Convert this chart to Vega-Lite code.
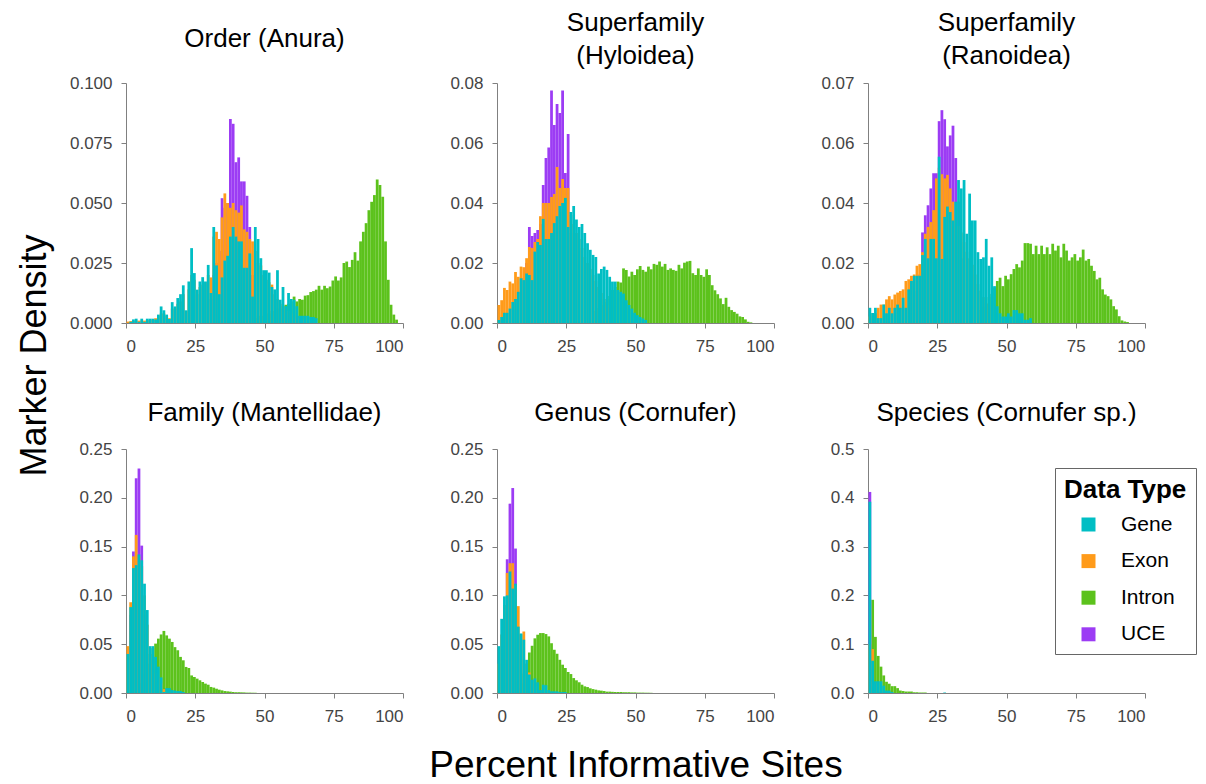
{
  "$schema": "https://vega.github.io/schema/vega-lite/v6.json",
  "background": "white",
  "padding": {"left": 16, "top": 10, "right": 5, "bottom": 5},
  "config": {
    "view": {"stroke": null},
    "font": "Liberation Sans",
    "axis": {"domainColor": "#808080", "tickColor": "#808080", "labelColor": "#444444", "labelFontSize": 17, "labelFont": "Liberation Sans", "grid": false, "tickSize": 5, "titleFont": "Liberation Sans", "titleFontWeight": "normal", "titleColor": "#000000"},
    "title": {"font": "Liberation Sans", "fontSize": 26, "fontWeight": "normal", "color": "#000000"},
    "bar": {"binSpacing": 0, "stroke": null}
  },
  "datasets": {
    "anura": [
      {"type":"Intron","pct":45,"density":0.002},{"type":"Intron","pct":46,"density":0.002},{"type":"Intron","pct":47,"density":0.003},{"type":"Intron","pct":48,"density":0.003},{"type":"Intron","pct":49,"density":0.003},{"type":"Intron","pct":50,"density":0.004},{"type":"Intron","pct":51,"density":0.004},{"type":"Intron","pct":52,"density":0.005},{"type":"Intron","pct":53,"density":0.005},{"type":"Intron","pct":54,"density":0.006},{"type":"Intron","pct":55,"density":0.006},{"type":"Intron","pct":56,"density":0.007},{"type":"Intron","pct":57,"density":0.0076},{"type":"Intron","pct":58,"density":0.008},{"type":"Intron","pct":59,"density":0.009},{"type":"Intron","pct":60,"density":0.011},{"type":"Intron","pct":61,"density":0.009},{"type":"Intron","pct":62,"density":0.010},{"type":"Intron","pct":63,"density":0.0097},{"type":"Intron","pct":64,"density":0.0114},{"type":"Intron","pct":65,"density":0.0116},{"type":"Intron","pct":66,"density":0.0129},{"type":"Intron","pct":67,"density":0.0133},{"type":"Intron","pct":68,"density":0.0139},{"type":"Intron","pct":69,"density":0.0155},{"type":"Intron","pct":70,"density":0.0139},{"type":"Intron","pct":71,"density":0.0155},{"type":"Intron","pct":72,"density":0.0145},{"type":"Intron","pct":73,"density":0.0152},{"type":"Intron","pct":74,"density":0.0177},{"type":"Intron","pct":75,"density":0.0194},{"type":"Intron","pct":76,"density":0.0177},{"type":"Intron","pct":77,"density":0.019},{"type":"Intron","pct":78,"density":0.025},{"type":"Intron","pct":79,"density":0.0256},{"type":"Intron","pct":80,"density":0.0233},{"type":"Intron","pct":81,"density":0.0263},{"type":"Intron","pct":82,"density":0.0295},{"type":"Intron","pct":83,"density":0.026},{"type":"Intron","pct":84,"density":0.034},{"type":"Intron","pct":85,"density":0.038},{"type":"Intron","pct":86,"density":0.0416},{"type":"Intron","pct":87,"density":0.047},{"type":"Intron","pct":88,"density":0.0505},{"type":"Intron","pct":89,"density":0.0533},{"type":"Intron","pct":90,"density":0.0598},{"type":"Intron","pct":91,"density":0.0575},{"type":"Intron","pct":92,"density":0.0526},{"type":"Intron","pct":93,"density":0.034},{"type":"Intron","pct":94,"density":0.018},{"type":"Intron","pct":95,"density":0.0076},{"type":"Intron","pct":96,"density":0.0035},{"type":"Intron","pct":97,"density":0.0014},
      {"type":"UCE","pct":30,"density":0.01},{"type":"UCE","pct":31,"density":0.02},{"type":"UCE","pct":32,"density":0.025},{"type":"UCE","pct":33,"density":0.03},{"type":"UCE","pct":34,"density":0.052},{"type":"UCE","pct":35,"density":0.048},{"type":"UCE","pct":36,"density":0.05},{"type":"UCE","pct":37,"density":0.085},{"type":"UCE","pct":38,"density":0.083},{"type":"UCE","pct":39,"density":0.067},{"type":"UCE","pct":40,"density":0.069},{"type":"UCE","pct":41,"density":0.059},{"type":"UCE","pct":42,"density":0.059},{"type":"UCE","pct":43,"density":0.053},{"type":"UCE","pct":44,"density":0.04},{"type":"UCE","pct":45,"density":0.02},
      {"type":"Exon","pct":0,"density":0.0006},{"type":"Exon","pct":1,"density":0.0008},{"type":"Exon","pct":2,"density":0.0008},{"type":"Exon","pct":3,"density":0.001},{"type":"Exon","pct":4,"density":0.001},{"type":"Exon","pct":5,"density":0.001},{"type":"Exon","pct":6,"density":0.001},{"type":"Exon","pct":7,"density":0.0012},{"type":"Exon","pct":8,"density":0.0012},{"type":"Exon","pct":9,"density":0.0014},{"type":"Exon","pct":10,"density":0.002},{"type":"Exon","pct":11,"density":0.003},{"type":"Exon","pct":12,"density":0.004},{"type":"Exon","pct":13,"density":0.004},{"type":"Exon","pct":14,"density":0.003},{"type":"Exon","pct":15,"density":0.002},{"type":"Exon","pct":16,"density":0.006},{"type":"Exon","pct":17,"density":0.006},{"type":"Exon","pct":18,"density":0.008},{"type":"Exon","pct":19,"density":0.009},{"type":"Exon","pct":20,"density":0.012},{"type":"Exon","pct":21,"density":0.005},{"type":"Exon","pct":22,"density":0.014},{"type":"Exon","pct":23,"density":0.02},{"type":"Exon","pct":24,"density":0.018},{"type":"Exon","pct":25,"density":0.012},{"type":"Exon","pct":26,"density":0.015},{"type":"Exon","pct":27,"density":0.016},{"type":"Exon","pct":28,"density":0.017},{"type":"Exon","pct":29,"density":0.02},{"type":"Exon","pct":30,"density":0.019},{"type":"Exon","pct":31,"density":0.036},{"type":"Exon","pct":32,"density":0.038},{"type":"Exon","pct":33,"density":0.035},{"type":"Exon","pct":34,"density":0.044},{"type":"Exon","pct":35,"density":0.054},{"type":"Exon","pct":36,"density":0.05},{"type":"Exon","pct":37,"density":0.048},{"type":"Exon","pct":38,"density":0.05},{"type":"Exon","pct":39,"density":0.047},{"type":"Exon","pct":40,"density":0.046},{"type":"Exon","pct":41,"density":0.049},{"type":"Exon","pct":42,"density":0.039},{"type":"Exon","pct":43,"density":0.038},{"type":"Exon","pct":44,"density":0.035},{"type":"Exon","pct":45,"density":0.034},{"type":"Exon","pct":46,"density":0.03},{"type":"Exon","pct":47,"density":0.025},{"type":"Exon","pct":48,"density":0.024},{"type":"Exon","pct":49,"density":0.02},{"type":"Exon","pct":50,"density":0.018},{"type":"Exon","pct":51,"density":0.017},{"type":"Exon","pct":52,"density":0.016},{"type":"Exon","pct":53,"density":0.012},{"type":"Exon","pct":54,"density":0.01},{"type":"Exon","pct":55,"density":0.008},{"type":"Exon","pct":56,"density":0.007},{"type":"Exon","pct":57,"density":0.006},{"type":"Exon","pct":58,"density":0.005},{"type":"Exon","pct":59,"density":0.004},{"type":"Exon","pct":60,"density":0.003},{"type":"Exon","pct":61,"density":0.002},{"type":"Exon","pct":62,"density":0.002},{"type":"Exon","pct":63,"density":0.0015},
      {"type":"Gene","pct":1,"density":0.0005},{"type":"Gene","pct":2,"density":0.0015},{"type":"Gene","pct":3,"density":0.0018},{"type":"Gene","pct":4,"density":0.0005},{"type":"Gene","pct":5,"density":0.0018},{"type":"Gene","pct":6,"density":0.0005},{"type":"Gene","pct":7,"density":0.0018},{"type":"Gene","pct":8,"density":0.0018},{"type":"Gene","pct":9,"density":0.0018},{"type":"Gene","pct":10,"density":0.0015},{"type":"Gene","pct":11,"density":0.0035},{"type":"Gene","pct":12,"density":0.0069},{"type":"Gene","pct":13,"density":0.0053},{"type":"Gene","pct":14,"density":0.0035},{"type":"Gene","pct":15,"density":0.0017},{"type":"Gene","pct":16,"density":0.0087},{"type":"Gene","pct":17,"density":0.0069},{"type":"Gene","pct":18,"density":0.0104},{"type":"Gene","pct":19,"density":0.012},{"type":"Gene","pct":20,"density":0.0157},{"type":"Gene","pct":21,"density":0.0053},{"type":"Gene","pct":22,"density":0.0173},{"type":"Gene","pct":23,"density":0.0312},{"type":"Gene","pct":24,"density":0.0208},{"type":"Gene","pct":25,"density":0.0139},{"type":"Gene","pct":26,"density":0.0173},{"type":"Gene","pct":27,"density":0.0191},{"type":"Gene","pct":28,"density":0.0173},{"type":"Gene","pct":29,"density":0.0242},{"type":"Gene","pct":30,"density":0.0125},{"type":"Gene","pct":31,"density":0.04},{"type":"Gene","pct":32,"density":0.024},{"type":"Gene","pct":33,"density":0.012},{"type":"Gene","pct":34,"density":0.019},{"type":"Gene","pct":35,"density":0.026},{"type":"Gene","pct":36,"density":0.028},{"type":"Gene","pct":37,"density":0.036},{"type":"Gene","pct":38,"density":0.04},{"type":"Gene","pct":39,"density":0.036},{"type":"Gene","pct":40,"density":0.034},{"type":"Gene","pct":41,"density":0.034},{"type":"Gene","pct":42,"density":0.023},{"type":"Gene","pct":43,"density":0.023},{"type":"Gene","pct":44,"density":0.029},{"type":"Gene","pct":45,"density":0.011},{"type":"Gene","pct":46,"density":0.04},{"type":"Gene","pct":47,"density":0.035},{"type":"Gene","pct":48,"density":0.027},{"type":"Gene","pct":49,"density":0.022},{"type":"Gene","pct":50,"density":0.022},{"type":"Gene","pct":51,"density":0.021},{"type":"Gene","pct":52,"density":0.015},{"type":"Gene","pct":53,"density":0.014},{"type":"Gene","pct":54,"density":0.022},{"type":"Gene","pct":55,"density":0.0097},{"type":"Gene","pct":56,"density":0.015},{"type":"Gene","pct":57,"density":0.007},{"type":"Gene","pct":58,"density":0.0125},{"type":"Gene","pct":59,"density":0.01},{"type":"Gene","pct":60,"density":0.0097},{"type":"Gene","pct":61,"density":0.007},{"type":"Gene","pct":62,"density":0.003},{"type":"Gene","pct":63,"density":0.003},{"type":"Gene","pct":64,"density":0.003},{"type":"Gene","pct":65,"density":0.003},{"type":"Gene","pct":66,"density":0.0025},{"type":"Gene","pct":67,"density":0.0025},{"type":"Gene","pct":68,"density":0.002}
    ],
    "hyloidea": [
      {"type":"Intron","pct":35,"density":0.004},{"type":"Intron","pct":36,"density":0.005},{"type":"Intron","pct":37,"density":0.006},{"type":"Intron","pct":38,"density":0.007},{"type":"Intron","pct":39,"density":0.008},{"type":"Intron","pct":40,"density":0.009},{"type":"Intron","pct":41,"density":0.011},{"type":"Intron","pct":42,"density":0.012},{"type":"Intron","pct":43,"density":0.0138},{"type":"Intron","pct":44,"density":0.0135},{"type":"Intron","pct":45,"density":0.0182},{"type":"Intron","pct":46,"density":0.0177},{"type":"Intron","pct":47,"density":0.0155},{"type":"Intron","pct":48,"density":0.0171},{"type":"Intron","pct":49,"density":0.016},{"type":"Intron","pct":50,"density":0.0179},{"type":"Intron","pct":51,"density":0.019},{"type":"Intron","pct":52,"density":0.0177},{"type":"Intron","pct":53,"density":0.0171},{"type":"Intron","pct":54,"density":0.0188},{"type":"Intron","pct":55,"density":0.0179},{"type":"Intron","pct":56,"density":0.0197},{"type":"Intron","pct":57,"density":0.0194},{"type":"Intron","pct":58,"density":0.0205},{"type":"Intron","pct":59,"density":0.0188},{"type":"Intron","pct":60,"density":0.0197},{"type":"Intron","pct":61,"density":0.0177},{"type":"Intron","pct":62,"density":0.0182},{"type":"Intron","pct":63,"density":0.0177},{"type":"Intron","pct":64,"density":0.0174},{"type":"Intron","pct":65,"density":0.0194},{"type":"Intron","pct":66,"density":0.0182},{"type":"Intron","pct":67,"density":0.0201},{"type":"Intron","pct":68,"density":0.0205},{"type":"Intron","pct":69,"density":0.0207},{"type":"Intron","pct":70,"density":0.0166},{"type":"Intron","pct":71,"density":0.016},{"type":"Intron","pct":72,"density":0.0182},{"type":"Intron","pct":73,"density":0.016},{"type":"Intron","pct":74,"density":0.0154},{"type":"Intron","pct":75,"density":0.0179},{"type":"Intron","pct":76,"density":0.016},{"type":"Intron","pct":77,"density":0.0126},{"type":"Intron","pct":78,"density":0.0109},{"type":"Intron","pct":79,"density":0.0096},{"type":"Intron","pct":80,"density":0.0082},{"type":"Intron","pct":81,"density":0.0063},{"type":"Intron","pct":82,"density":0.0084},{"type":"Intron","pct":83,"density":0.0054},{"type":"Intron","pct":84,"density":0.0043},{"type":"Intron","pct":85,"density":0.0037},{"type":"Intron","pct":86,"density":0.0031},{"type":"Intron","pct":87,"density":0.0022},{"type":"Intron","pct":88,"density":0.002},{"type":"Intron","pct":89,"density":0.0012},{"type":"Intron","pct":90,"density":0.0004},{"type":"Intron","pct":91,"density":0.0002},
      {"type":"UCE","pct":9,"density":0.015},{"type":"UCE","pct":10,"density":0.02},{"type":"UCE","pct":11,"density":0.032},{"type":"UCE","pct":12,"density":0.029},{"type":"UCE","pct":13,"density":0.03},{"type":"UCE","pct":14,"density":0.031},{"type":"UCE","pct":15,"density":0.033},{"type":"UCE","pct":16,"density":0.046},{"type":"UCE","pct":17,"density":0.055},{"type":"UCE","pct":18,"density":0.0585},{"type":"UCE","pct":19,"density":0.0775},{"type":"UCE","pct":20,"density":0.066},{"type":"UCE","pct":21,"density":0.073},{"type":"UCE","pct":22,"density":0.07},{"type":"UCE","pct":23,"density":0.0775},{"type":"UCE","pct":24,"density":0.05},{"type":"UCE","pct":25,"density":0.063},{"type":"UCE","pct":26,"density":0.03},
      {"type":"Exon","pct":0,"density":0.006},{"type":"Exon","pct":1,"density":0.0076},{"type":"Exon","pct":2,"density":0.0117},{"type":"Exon","pct":3,"density":0.011},{"type":"Exon","pct":4,"density":0.0138},{"type":"Exon","pct":5,"density":0.0132},{"type":"Exon","pct":6,"density":0.017},{"type":"Exon","pct":7,"density":0.0154},{"type":"Exon","pct":8,"density":0.0188},{"type":"Exon","pct":9,"density":0.0186},{"type":"Exon","pct":10,"density":0.0216},{"type":"Exon","pct":11,"density":0.0253},{"type":"Exon","pct":12,"density":0.025},{"type":"Exon","pct":13,"density":0.027},{"type":"Exon","pct":14,"density":0.028},{"type":"Exon","pct":15,"density":0.0356},{"type":"Exon","pct":16,"density":0.04},{"type":"Exon","pct":17,"density":0.04},{"type":"Exon","pct":18,"density":0.04},{"type":"Exon","pct":19,"density":0.042},{"type":"Exon","pct":20,"density":0.043},{"type":"Exon","pct":21,"density":0.052},{"type":"Exon","pct":22,"density":0.045},{"type":"Exon","pct":23,"density":0.048},{"type":"Exon","pct":24,"density":0.045},{"type":"Exon","pct":25,"density":0.045},{"type":"Exon","pct":26,"density":0.036},{"type":"Exon","pct":27,"density":0.033},{"type":"Exon","pct":28,"density":0.03},{"type":"Exon","pct":29,"density":0.028},{"type":"Exon","pct":30,"density":0.025},{"type":"Exon","pct":31,"density":0.022},{"type":"Exon","pct":32,"density":0.02},{"type":"Exon","pct":33,"density":0.018},{"type":"Exon","pct":34,"density":0.016},{"type":"Exon","pct":35,"density":0.014},{"type":"Exon","pct":36,"density":0.012},{"type":"Exon","pct":37,"density":0.01},{"type":"Exon","pct":38,"density":0.008},{"type":"Exon","pct":39,"density":0.006},{"type":"Exon","pct":40,"density":0.005},
      {"type":"Gene","pct":0,"density":0.001},{"type":"Gene","pct":1,"density":0.002},{"type":"Gene","pct":2,"density":0.0034},{"type":"Gene","pct":3,"density":0.0034},{"type":"Gene","pct":4,"density":0.0048},{"type":"Gene","pct":5,"density":0.007},{"type":"Gene","pct":6,"density":0.008},{"type":"Gene","pct":7,"density":0.0104},{"type":"Gene","pct":8,"density":0.0149},{"type":"Gene","pct":9,"density":0.0143},{"type":"Gene","pct":10,"density":0.0165},{"type":"Gene","pct":11,"density":0.016},{"type":"Gene","pct":12,"density":0.0143},{"type":"Gene","pct":13,"density":0.0238},{"type":"Gene","pct":14,"density":0.027},{"type":"Gene","pct":15,"density":0.026},{"type":"Gene","pct":16,"density":0.0347},{"type":"Gene","pct":17,"density":0.028},{"type":"Gene","pct":18,"density":0.028},{"type":"Gene","pct":19,"density":0.03},{"type":"Gene","pct":20,"density":0.0333},{"type":"Gene","pct":21,"density":0.0356},{"type":"Gene","pct":22,"density":0.039},{"type":"Gene","pct":23,"density":0.04},{"type":"Gene","pct":24,"density":0.0417},{"type":"Gene","pct":25,"density":0.032},{"type":"Gene","pct":26,"density":0.037},{"type":"Gene","pct":27,"density":0.039},{"type":"Gene","pct":28,"density":0.0345},{"type":"Gene","pct":29,"density":0.032},{"type":"Gene","pct":30,"density":0.033},{"type":"Gene","pct":31,"density":0.03},{"type":"Gene","pct":32,"density":0.0266},{"type":"Gene","pct":33,"density":0.0244},{"type":"Gene","pct":34,"density":0.0227},{"type":"Gene","pct":35,"density":0.022},{"type":"Gene","pct":36,"density":0.0165},{"type":"Gene","pct":37,"density":0.018},{"type":"Gene","pct":38,"density":0.0188},{"type":"Gene","pct":39,"density":0.0177},{"type":"Gene","pct":40,"density":0.0154},{"type":"Gene","pct":41,"density":0.0138},{"type":"Gene","pct":42,"density":0.0138},{"type":"Gene","pct":43,"density":0.011},{"type":"Gene","pct":44,"density":0.0104},{"type":"Gene","pct":45,"density":0.0098},{"type":"Gene","pct":46,"density":0.0076},{"type":"Gene","pct":47,"density":0.006},{"type":"Gene","pct":48,"density":0.0048},{"type":"Gene","pct":49,"density":0.0034},{"type":"Gene","pct":50,"density":0.0026},{"type":"Gene","pct":51,"density":0.002},{"type":"Gene","pct":52,"density":0.0015},{"type":"Gene","pct":53,"density":0.001}
    ],
    "ranoidea": [
      {"type":"Intron","pct":40,"density":0.004},{"type":"Intron","pct":41,"density":0.005},{"type":"Intron","pct":42,"density":0.006},{"type":"Intron","pct":43,"density":0.008},{"type":"Intron","pct":44,"density":0.009},{"type":"Intron","pct":45,"density":0.011},{"type":"Intron","pct":46,"density":0.013},{"type":"Intron","pct":47,"density":0.014},{"type":"Intron","pct":48,"density":0.0114},{"type":"Intron","pct":49,"density":0.0146},{"type":"Intron","pct":50,"density":0.0135},{"type":"Intron","pct":51,"density":0.0151},{"type":"Intron","pct":52,"density":0.0167},{"type":"Intron","pct":53,"density":0.0182},{"type":"Intron","pct":54,"density":0.0172},{"type":"Intron","pct":55,"density":0.0193},{"type":"Intron","pct":56,"density":0.0247},{"type":"Intron","pct":57,"density":0.0247},{"type":"Intron","pct":58,"density":0.0245},{"type":"Intron","pct":59,"density":0.0213},{"type":"Intron","pct":60,"density":0.0239},{"type":"Intron","pct":61,"density":0.0213},{"type":"Intron","pct":62,"density":0.0239},{"type":"Intron","pct":63,"density":0.0213},{"type":"Intron","pct":64,"density":0.0234},{"type":"Intron","pct":65,"density":0.0213},{"type":"Intron","pct":66,"density":0.0245},{"type":"Intron","pct":67,"density":0.0224},{"type":"Intron","pct":68,"density":0.0239},{"type":"Intron","pct":69,"density":0.0203},{"type":"Intron","pct":70,"density":0.0245},{"type":"Intron","pct":71,"density":0.0224},{"type":"Intron","pct":72,"density":0.0193},{"type":"Intron","pct":73,"density":0.0203},{"type":"Intron","pct":74,"density":0.0213},{"type":"Intron","pct":75,"density":0.0193},{"type":"Intron","pct":76,"density":0.0203},{"type":"Intron","pct":77,"density":0.0227},{"type":"Intron","pct":78,"density":0.0193},{"type":"Intron","pct":79,"density":0.0198},{"type":"Intron","pct":80,"density":0.0177},{"type":"Intron","pct":81,"density":0.0161},{"type":"Intron","pct":82,"density":0.0135},{"type":"Intron","pct":83,"density":0.014},{"type":"Intron","pct":84,"density":0.0104},{"type":"Intron","pct":85,"density":0.0088},{"type":"Intron","pct":86,"density":0.0083},{"type":"Intron","pct":87,"density":0.0073},{"type":"Intron","pct":88,"density":0.0052},{"type":"Intron","pct":89,"density":0.0042},{"type":"Intron","pct":90,"density":0.0021},{"type":"Intron","pct":91,"density":0.0008},{"type":"Intron","pct":92,"density":0.0005},{"type":"Intron","pct":93,"density":0.0003},
      {"type":"UCE","pct":17,"density":0.01},{"type":"UCE","pct":18,"density":0.015},{"type":"UCE","pct":19,"density":0.028},{"type":"UCE","pct":20,"density":0.0333},{"type":"UCE","pct":21,"density":0.0364},{"type":"UCE","pct":22,"density":0.0416},{"type":"UCE","pct":23,"density":0.0463},{"type":"UCE","pct":24,"density":0.0463},{"type":"UCE","pct":25,"density":0.0624},{"type":"UCE","pct":26,"density":0.0658},{"type":"UCE","pct":27,"density":0.063},{"type":"UCE","pct":28,"density":0.0546},{"type":"UCE","pct":29,"density":0.058},{"type":"UCE","pct":30,"density":0.061},{"type":"UCE","pct":31,"density":0.051},{"type":"UCE","pct":32,"density":0.0375},{"type":"UCE","pct":33,"density":0.02},
      {"type":"Exon","pct":0,"density":0.002},{"type":"Exon","pct":1,"density":0.003},{"type":"Exon","pct":2,"density":0.003},{"type":"Exon","pct":3,"density":0.0047},{"type":"Exon","pct":4,"density":0.0057},{"type":"Exon","pct":5,"density":0.0057},{"type":"Exon","pct":6,"density":0.0073},{"type":"Exon","pct":7,"density":0.0083},{"type":"Exon","pct":8,"density":0.0073},{"type":"Exon","pct":9,"density":0.0088},{"type":"Exon","pct":10,"density":0.0094},{"type":"Exon","pct":11,"density":0.0099},{"type":"Exon","pct":12,"density":0.0104},{"type":"Exon","pct":13,"density":0.013},{"type":"Exon","pct":14,"density":0.0135},{"type":"Exon","pct":15,"density":0.0146},{"type":"Exon","pct":16,"density":0.015},{"type":"Exon","pct":17,"density":0.0177},{"type":"Exon","pct":18,"density":0.0182},{"type":"Exon","pct":19,"density":0.0219},{"type":"Exon","pct":20,"density":0.0276},{"type":"Exon","pct":21,"density":0.0297},{"type":"Exon","pct":22,"density":0.0312},{"type":"Exon","pct":23,"density":0.0349},{"type":"Exon","pct":24,"density":0.0447},{"type":"Exon","pct":25,"density":0.048},{"type":"Exon","pct":26,"density":0.046},{"type":"Exon","pct":27,"density":0.0447},{"type":"Exon","pct":28,"density":0.0458},{"type":"Exon","pct":29,"density":0.0416},{"type":"Exon","pct":30,"density":0.0375},{"type":"Exon","pct":31,"density":0.032},{"type":"Exon","pct":32,"density":0.03},{"type":"Exon","pct":33,"density":0.028},{"type":"Exon","pct":34,"density":0.025},{"type":"Exon","pct":35,"density":0.022},{"type":"Exon","pct":36,"density":0.02},{"type":"Exon","pct":37,"density":0.018},{"type":"Exon","pct":38,"density":0.015},{"type":"Exon","pct":39,"density":0.012},{"type":"Exon","pct":40,"density":0.01},{"type":"Exon","pct":41,"density":0.008},{"type":"Exon","pct":42,"density":0.006},{"type":"Exon","pct":43,"density":0.005},
      {"type":"Gene","pct":0,"density":0.0047},{"type":"Gene","pct":1,"density":0.0031},{"type":"Gene","pct":2,"density":0.0047},{"type":"Gene","pct":3,"density":0.0015},{"type":"Gene","pct":4,"density":0.0015},{"type":"Gene","pct":5,"density":0.0057},{"type":"Gene","pct":6,"density":0.003},{"type":"Gene","pct":7,"density":0.0047},{"type":"Gene","pct":8,"density":0.003},{"type":"Gene","pct":9,"density":0.0047},{"type":"Gene","pct":10,"density":0.0057},{"type":"Gene","pct":11,"density":0.0047},{"type":"Gene","pct":12,"density":0.0078},{"type":"Gene","pct":13,"density":0.0047},{"type":"Gene","pct":14,"density":0.0104},{"type":"Gene","pct":15,"density":0.013},{"type":"Gene","pct":16,"density":0.0146},{"type":"Gene","pct":17,"density":0.0146},{"type":"Gene","pct":18,"density":0.0146},{"type":"Gene","pct":19,"density":0.021},{"type":"Gene","pct":20,"density":0.026},{"type":"Gene","pct":21,"density":0.02},{"type":"Gene","pct":22,"density":0.026},{"type":"Gene","pct":23,"density":0.026},{"type":"Gene","pct":24,"density":0.02},{"type":"Gene","pct":25,"density":0.0514},{"type":"Gene","pct":26,"density":0.0198},{"type":"Gene","pct":27,"density":0.0328},{"type":"Gene","pct":28,"density":0.036},{"type":"Gene","pct":29,"density":0.0343},{"type":"Gene","pct":30,"density":0.0317},{"type":"Gene","pct":31,"density":0.0375},{"type":"Gene","pct":32,"density":0.0442},{"type":"Gene","pct":33,"density":0.0416},{"type":"Gene","pct":34,"density":0.0442},{"type":"Gene","pct":35,"density":0.0276},{"type":"Gene","pct":36,"density":0.04},{"type":"Gene","pct":37,"density":0.0317},{"type":"Gene","pct":38,"density":0.0317},{"type":"Gene","pct":39,"density":0.0219},{"type":"Gene","pct":40,"density":0.0198},{"type":"Gene","pct":41,"density":0.0203},{"type":"Gene","pct":42,"density":0.026},{"type":"Gene","pct":43,"density":0.0177},{"type":"Gene","pct":44,"density":0.0203},{"type":"Gene","pct":45,"density":0.0114},{"type":"Gene","pct":46,"density":0.0052},{"type":"Gene","pct":47,"density":0.003},{"type":"Gene","pct":48,"density":0.002},{"type":"Gene","pct":49,"density":0.002},{"type":"Gene","pct":50,"density":0.003},{"type":"Gene","pct":51,"density":0.002},{"type":"Gene","pct":52,"density":0.004},{"type":"Gene","pct":53,"density":0.004},{"type":"Gene","pct":54,"density":0.003},{"type":"Gene","pct":55,"density":0.003},{"type":"Gene","pct":56,"density":0.001},{"type":"Gene","pct":57,"density":0.001},{"type":"Gene","pct":58,"density":0.0015}
    ],
    "mantellidae": [
      {"type":"Intron","pct":5,"density":0.01},{"type":"Intron","pct":6,"density":0.02},{"type":"Intron","pct":7,"density":0.03},{"type":"Intron","pct":8,"density":0.04},{"type":"Intron","pct":9,"density":0.046},{"type":"Intron","pct":10,"density":0.0506},{"type":"Intron","pct":11,"density":0.0557},{"type":"Intron","pct":12,"density":0.06},{"type":"Intron","pct":13,"density":0.0636},{"type":"Intron","pct":14,"density":0.059},{"type":"Intron","pct":15,"density":0.0557},{"type":"Intron","pct":16,"density":0.0523},{"type":"Intron","pct":17,"density":0.047},{"type":"Intron","pct":18,"density":0.0438},{"type":"Intron","pct":19,"density":0.037},{"type":"Intron","pct":20,"density":0.0335},{"type":"Intron","pct":21,"density":0.0267},{"type":"Intron","pct":22,"density":0.0256},{"type":"Intron","pct":23,"density":0.018},{"type":"Intron","pct":24,"density":0.0164},{"type":"Intron","pct":25,"density":0.0147},{"type":"Intron","pct":26,"density":0.013},{"type":"Intron","pct":27,"density":0.0113},{"type":"Intron","pct":28,"density":0.0096},{"type":"Intron","pct":29,"density":0.0085},{"type":"Intron","pct":30,"density":0.0062},{"type":"Intron","pct":31,"density":0.0055},{"type":"Intron","pct":32,"density":0.0044},{"type":"Intron","pct":33,"density":0.0034},{"type":"Intron","pct":34,"density":0.0027},{"type":"Intron","pct":35,"density":0.002},{"type":"Intron","pct":36,"density":0.0017},{"type":"Intron","pct":37,"density":0.0014},{"type":"Intron","pct":38,"density":0.001},{"type":"Intron","pct":39,"density":0.0008},{"type":"Intron","pct":40,"density":0.0008},{"type":"Intron","pct":41,"density":0.0007},{"type":"Intron","pct":42,"density":0.0006},{"type":"Intron","pct":43,"density":0.0004},{"type":"Intron","pct":44,"density":0.0004},{"type":"Intron","pct":45,"density":0.0003},{"type":"Intron","pct":46,"density":0.0003},
      {"type":"UCE","pct":1,"density":0.08},{"type":"UCE","pct":2,"density":0.145},{"type":"UCE","pct":3,"density":0.22},{"type":"UCE","pct":4,"density":0.23},{"type":"UCE","pct":5,"density":0.151},{"type":"UCE","pct":6,"density":0.08},
      {"type":"Exon","pct":0,"density":0.048},{"type":"Exon","pct":1,"density":0.093},{"type":"Exon","pct":2,"density":0.14},{"type":"Exon","pct":3,"density":0.162},{"type":"Exon","pct":4,"density":0.14},{"type":"Exon","pct":5,"density":0.13},{"type":"Exon","pct":6,"density":0.1},{"type":"Exon","pct":7,"density":0.07},{"type":"Exon","pct":8,"density":0.04},{"type":"Exon","pct":9,"density":0.03},{"type":"Exon","pct":10,"density":0.02},{"type":"Exon","pct":11,"density":0.015},{"type":"Exon","pct":12,"density":0.01},{"type":"Exon","pct":13,"density":0.004},
      {"type":"Gene","pct":0,"density":0.04},{"type":"Gene","pct":1,"density":0.088},{"type":"Gene","pct":2,"density":0.128},{"type":"Gene","pct":3,"density":0.131},{"type":"Gene","pct":4,"density":0.142},{"type":"Gene","pct":5,"density":0.136},{"type":"Gene","pct":6,"density":0.112},{"type":"Gene","pct":7,"density":0.085},{"type":"Gene","pct":8,"density":0.048},{"type":"Gene","pct":9,"density":0.048},{"type":"Gene","pct":10,"density":0.037},{"type":"Gene","pct":11,"density":0.027},{"type":"Gene","pct":12,"density":0.016},{"type":"Gene","pct":13,"density":0.001},{"type":"Gene","pct":14,"density":0.005},{"type":"Gene","pct":15,"density":0.005},{"type":"Gene","pct":16,"density":0.003},{"type":"Gene","pct":17,"density":0.0025},{"type":"Gene","pct":18,"density":0.002},{"type":"Gene","pct":19,"density":0.002},{"type":"Gene","pct":20,"density":0.001}
    ],
    "cornufer": [
      {"type":"Intron","pct":7,"density":0.005},{"type":"Intron","pct":8,"density":0.01},{"type":"Intron","pct":9,"density":0.02},{"type":"Intron","pct":10,"density":0.03},{"type":"Intron","pct":11,"density":0.0416},{"type":"Intron","pct":12,"density":0.0484},{"type":"Intron","pct":13,"density":0.056},{"type":"Intron","pct":14,"density":0.0597},{"type":"Intron","pct":15,"density":0.0614},{"type":"Intron","pct":16,"density":0.0614},{"type":"Intron","pct":17,"density":0.0604},{"type":"Intron","pct":18,"density":0.058},{"type":"Intron","pct":19,"density":0.051},{"type":"Intron","pct":20,"density":0.0443},{"type":"Intron","pct":21,"density":0.0402},{"type":"Intron","pct":22,"density":0.034},{"type":"Intron","pct":23,"density":0.029},{"type":"Intron","pct":24,"density":0.0256},{"type":"Intron","pct":25,"density":0.0215},{"type":"Intron","pct":26,"density":0.0194},{"type":"Intron","pct":27,"density":0.0153},{"type":"Intron","pct":28,"density":0.013},{"type":"Intron","pct":29,"density":0.011},{"type":"Intron","pct":30,"density":0.0085},{"type":"Intron","pct":31,"density":0.0068},{"type":"Intron","pct":32,"density":0.0061},{"type":"Intron","pct":33,"density":0.0048},{"type":"Intron","pct":34,"density":0.004},{"type":"Intron","pct":35,"density":0.0034},{"type":"Intron","pct":36,"density":0.0027},{"type":"Intron","pct":37,"density":0.0024},{"type":"Intron","pct":38,"density":0.002},{"type":"Intron","pct":39,"density":0.0014},{"type":"Intron","pct":40,"density":0.0014},{"type":"Intron","pct":41,"density":0.0012},{"type":"Intron","pct":42,"density":0.001},{"type":"Intron","pct":43,"density":0.001},{"type":"Intron","pct":44,"density":0.001},{"type":"Intron","pct":45,"density":0.0008},{"type":"Intron","pct":46,"density":0.0008},{"type":"Intron","pct":47,"density":0.0008},{"type":"Intron","pct":48,"density":0.0006},{"type":"Intron","pct":49,"density":0.0006},{"type":"Intron","pct":50,"density":0.0004},{"type":"Intron","pct":51,"density":0.0004},{"type":"Intron","pct":52,"density":0.0004},{"type":"Intron","pct":53,"density":0.0003},{"type":"Intron","pct":54,"density":0.0003},{"type":"Intron","pct":55,"density":0.0002},
      {"type":"UCE","pct":2,"density":0.09},{"type":"UCE","pct":3,"density":0.137},{"type":"UCE","pct":4,"density":0.194},{"type":"UCE","pct":5,"density":0.21},{"type":"UCE","pct":6,"density":0.148},{"type":"UCE","pct":7,"density":0.06},
      {"type":"Exon","pct":0,"density":0.03},{"type":"Exon","pct":1,"density":0.06},{"type":"Exon","pct":2,"density":0.09},{"type":"Exon","pct":3,"density":0.123},{"type":"Exon","pct":4,"density":0.133},{"type":"Exon","pct":5,"density":0.133},{"type":"Exon","pct":6,"density":0.11},{"type":"Exon","pct":7,"density":0.089},{"type":"Exon","pct":8,"density":0.06},{"type":"Exon","pct":9,"density":0.063},{"type":"Exon","pct":10,"density":0.03},{"type":"Exon","pct":11,"density":0.021},{"type":"Exon","pct":12,"density":0.01},
      {"type":"Gene","pct":0,"density":0.048},{"type":"Gene","pct":1,"density":0.076},{"type":"Gene","pct":2,"density":0.099},{"type":"Gene","pct":3,"density":0.1},{"type":"Gene","pct":4,"density":0.1245},{"type":"Gene","pct":5,"density":0.107},{"type":"Gene","pct":6,"density":0.112},{"type":"Gene","pct":7,"density":0.068},{"type":"Gene","pct":8,"density":0.061},{"type":"Gene","pct":9,"density":0.0546},{"type":"Gene","pct":10,"density":0.034},{"type":"Gene","pct":11,"density":0.019},{"type":"Gene","pct":12,"density":0.0136},{"type":"Gene","pct":13,"density":0.015},{"type":"Gene","pct":14,"density":0.011},{"type":"Gene","pct":15,"density":0.003},{"type":"Gene","pct":16,"density":0.0085},{"type":"Gene","pct":17,"density":0.008},{"type":"Gene","pct":18,"density":0.003},{"type":"Gene","pct":19,"density":0.0017},{"type":"Gene","pct":20,"density":0.0017},{"type":"Gene","pct":21,"density":0.0017},{"type":"Gene","pct":22,"density":0.001},{"type":"Gene","pct":23,"density":0.001},{"type":"Gene","pct":24,"density":0.001}
    ],
    "cornufer_sp": [
      {"type":"Intron","pct":0,"density":0.1},{"type":"Intron","pct":1,"density":0.191},{"type":"Intron","pct":2,"density":0.115},{"type":"Intron","pct":3,"density":0.076},{"type":"Intron","pct":4,"density":0.054},{"type":"Intron","pct":5,"density":0.036},{"type":"Intron","pct":6,"density":0.023},{"type":"Intron","pct":7,"density":0.019},{"type":"Intron","pct":8,"density":0.014},{"type":"Intron","pct":9,"density":0.014},{"type":"Intron","pct":10,"density":0.01},{"type":"Intron","pct":11,"density":0.005},{"type":"Intron","pct":12,"density":0.004},{"type":"Intron","pct":13,"density":0.003},{"type":"Intron","pct":14,"density":0.003},{"type":"Intron","pct":15,"density":0.003},{"type":"Intron","pct":16,"density":0.0015},{"type":"Intron","pct":17,"density":0.0015},{"type":"Intron","pct":18,"density":0.001},{"type":"Intron","pct":19,"density":0.001},{"type":"Intron","pct":20,"density":0.001},
      {"type":"UCE","pct":0,"density":0.412},{"type":"UCE","pct":1,"density":0.05},{"type":"UCE","pct":3,"density":0.002},{"type":"UCE","pct":4,"density":0.002},
      {"type":"Exon","pct":0,"density":0.1},{"type":"Exon","pct":1,"density":0.09},{"type":"Exon","pct":2,"density":0.02},
      {"type":"Gene","pct":0,"density":0.392},{"type":"Gene","pct":1,"density":0.066},{"type":"Gene","pct":2,"density":0.024},{"type":"Gene","pct":3,"density":0.024},{"type":"Gene","pct":4,"density":0.024},{"type":"Gene","pct":5,"density":0.015},{"type":"Gene","pct":6,"density":0.005},{"type":"Gene","pct":7,"density":0.005},{"type":"Gene","pct":8,"density":0.002},{"type":"Gene","pct":27,"density":0.001}
    ]
  },
  "concat": [
    {
      "width": 277, "height": 240,
      "title": {"text": "Order (Anura)", "offset": 22},
      "data": {"name": "anura"},
      "mark": {"type": "bar"},
      "encoding": {
        "x": {"field": "pct", "type": "quantitative", "bin": {"binned": true, "step": 1}, "scale": {"domain": [0, 100]}, "axis": {"title": null, "values": [0, 25, 50, 75, 100], "format": "d", "labelPadding": 10}},
        "y": {"field": "density", "type": "quantitative", "stack": null, "scale": {"domain": [0, 0.1], "nice": false}, "axis": {"title": "Marker Density", "titleFontSize": 36, "titleX": -92, "titleY": 272, "titleAngle": 270, "titleAlign": "center", "titleBaseline": "middle", "values": [0, 0.025, 0.05, 0.075, 0.1], "format": ".3f", "labelPadding": 9}},
        "color": {"field": "type", "type": "nominal", "scale": {"domain": ["Gene", "Exon", "Intron", "UCE"], "range": ["#00BEC4", "#FF9B1A", "#5CC21C", "#9C3CF4"]}, "legend": {"title": "Data Type", "orient": "none", "legendX": 929, "legendY": 385, "titleFontSize": 26, "titleFontWeight": "bold", "titleColor": "#000000", "labelFontSize": 21, "labelColor": "#000000", "symbolType": "square", "symbolSize": 196, "symbolStrokeColor": "#555555", "symbolStrokeWidth": 1, "strokeColor": "#666666", "padding": 9, "rowPadding": 14.6, "labelOffset": 22, "symbolOffset": 14, "titlePadding": 11}}
      }
    },
    {
      "width": 277, "height": 240,
      "title": {"text": ["Superfamily", "(Hyloidea)"], "offset": 5, "lineHeight": 33},
      "data": {"name": "hyloidea"},
      "mark": {"type": "bar"},
      "encoding": {
        "x": {"field": "pct", "type": "quantitative", "bin": {"binned": true, "step": 1}, "scale": {"domain": [0, 100]}, "axis": {"title": null, "values": [0, 25, 50, 75, 100], "format": "d", "labelPadding": 10}},
        "y": {"field": "density", "type": "quantitative", "stack": null, "scale": {"domain": [0, 0.08], "nice": false}, "axis": {"title": null, "values": [0, 0.02, 0.04, 0.06, 0.08], "format": ".2f", "labelPadding": 9}},
        "color": {"field": "type", "type": "nominal", "scale": {"domain": ["Gene", "Exon", "Intron", "UCE"], "range": ["#00BEC4", "#FF9B1A", "#5CC21C", "#9C3CF4"]}}
      }
    },
    {
      "width": 277, "height": 240,
      "title": {"text": ["Superfamily", "(Ranoidea)"], "offset": 5, "lineHeight": 33},
      "data": {"name": "ranoidea"},
      "mark": {"type": "bar"},
      "encoding": {
        "x": {"field": "pct", "type": "quantitative", "bin": {"binned": true, "step": 1}, "scale": {"domain": [0, 100]}, "axis": {"title": null, "values": [0, 25, 50, 75, 100], "format": "d", "labelPadding": 10}},
        "y": {"field": "density", "type": "quantitative", "stack": null, "scale": {"domain": [0, 0.0742], "nice": false}, "axis": {"title": null, "values": [0, 0.01855, 0.0371, 0.05565, 0.0742], "format": ".2f", "labelPadding": 9}},
        "color": {"field": "type", "type": "nominal", "scale": {"domain": ["Gene", "Exon", "Intron", "UCE"], "range": ["#00BEC4", "#FF9B1A", "#5CC21C", "#9C3CF4"]}}
      }
    },
    {
      "width": 277, "height": 244,
      "title": {"text": "Family (Mantellidae)", "offset": 14},
      "data": {"name": "mantellidae"},
      "mark": {"type": "bar"},
      "encoding": {
        "x": {"field": "pct", "type": "quantitative", "bin": {"binned": true, "step": 1}, "scale": {"domain": [0, 100]}, "axis": {"title": null, "values": [0, 25, 50, 75, 100], "format": "d", "labelPadding": 10}},
        "y": {"field": "density", "type": "quantitative", "stack": null, "scale": {"domain": [0, 0.25], "nice": false}, "axis": {"title": null, "values": [0, 0.05, 0.1, 0.15, 0.2, 0.25], "format": ".2f", "labelPadding": 9}},
        "color": {"field": "type", "type": "nominal", "scale": {"domain": ["Gene", "Exon", "Intron", "UCE"], "range": ["#00BEC4", "#FF9B1A", "#5CC21C", "#9C3CF4"]}}
      }
    },
    {
      "width": 277, "height": 244,
      "title": {"text": "Genus (Cornufer)", "offset": 14},
      "data": {"name": "cornufer"},
      "mark": {"type": "bar"},
      "encoding": {
        "x": {"field": "pct", "type": "quantitative", "bin": {"binned": true, "step": 1}, "scale": {"domain": [0, 100]}, "axis": {"title": "Percent Informative Sites", "titleFontSize": 37, "titlePadding": 23, "values": [0, 25, 50, 75, 100], "format": "d", "labelPadding": 10}},
        "y": {"field": "density", "type": "quantitative", "stack": null, "scale": {"domain": [0, 0.25], "nice": false}, "axis": {"title": null, "values": [0, 0.05, 0.1, 0.15, 0.2, 0.25], "format": ".2f", "labelPadding": 9}},
        "color": {"field": "type", "type": "nominal", "scale": {"domain": ["Gene", "Exon", "Intron", "UCE"], "range": ["#00BEC4", "#FF9B1A", "#5CC21C", "#9C3CF4"]}}
      }
    },
    {
      "width": 277, "height": 244,
      "title": {"text": "Species (Cornufer sp.)", "offset": 14},
      "data": {"name": "cornufer_sp"},
      "mark": {"type": "bar"},
      "encoding": {
        "x": {"field": "pct", "type": "quantitative", "bin": {"binned": true, "step": 1}, "scale": {"domain": [0, 100]}, "axis": {"title": null, "values": [0, 25, 50, 75, 100], "format": "d", "labelPadding": 10}},
        "y": {"field": "density", "type": "quantitative", "stack": null, "scale": {"domain": [0, 0.5], "nice": false}, "axis": {"title": null, "values": [0, 0.1, 0.2, 0.3, 0.4, 0.5], "format": ".1f", "labelPadding": 9}},
        "color": {"field": "type", "type": "nominal", "scale": {"domain": ["Gene", "Exon", "Intron", "UCE"], "range": ["#00BEC4", "#FF9B1A", "#5CC21C", "#9C3CF4"]}}
      }
    }
  ],
  "columns": 3,
  "spacing": {"row": 126, "column": 94},
  "bounds": "flush"
}
